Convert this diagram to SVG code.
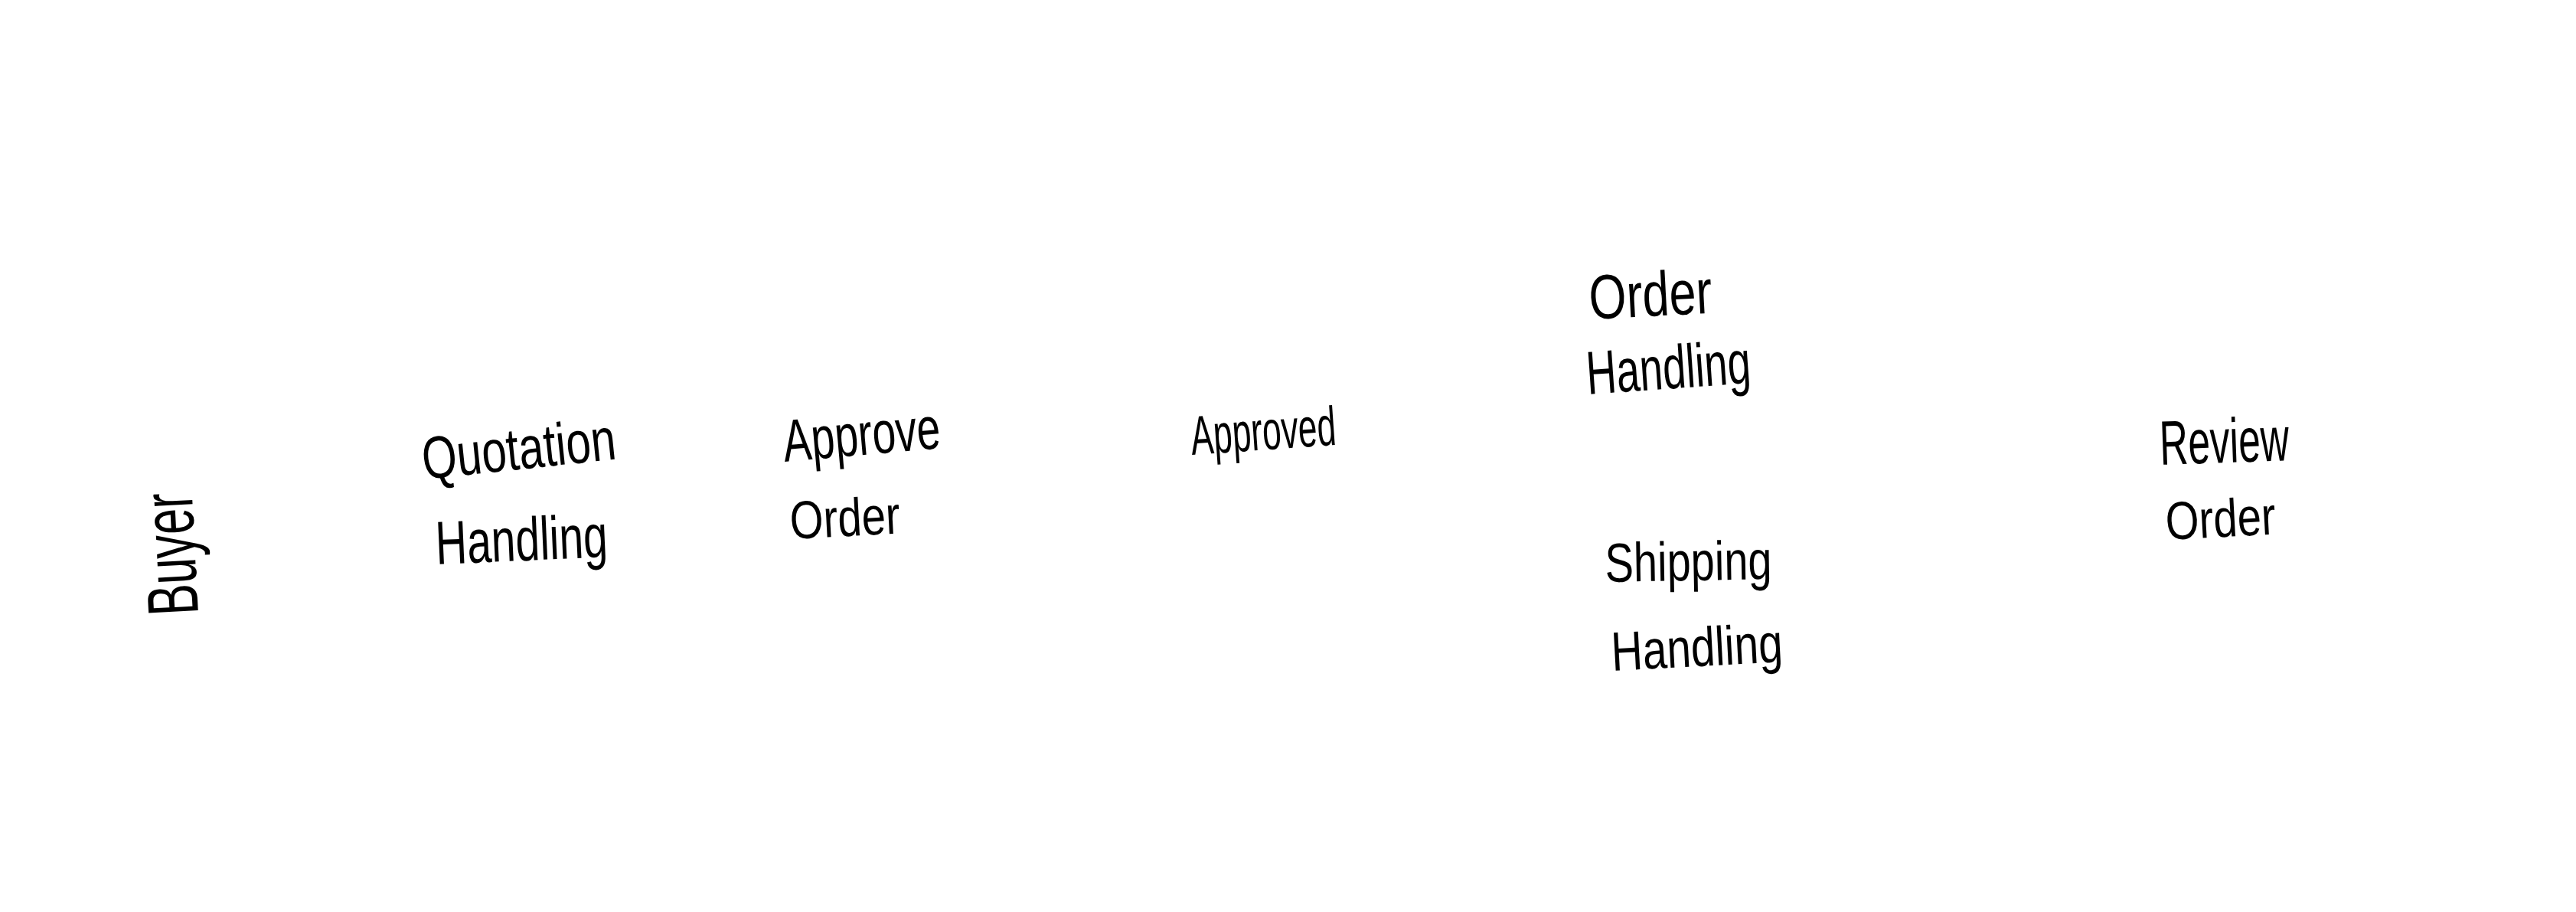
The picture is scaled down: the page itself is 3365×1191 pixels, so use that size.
<svg xmlns="http://www.w3.org/2000/svg" width="3365" height="1191" viewBox="0 0 3365 1191">
  <style>
    .lbl { font-family: "Liberation Sans", Arial, sans-serif; fill: #000000; font-weight: normal; }
  </style>
  <rect x="0" y="0" width="3365" height="1191" fill="#ffffff"/>
  <g id="connectors"></g>
  <g id="node-buyer">
    <text class="lbl" transform="translate(259,802) rotate(-93)" x="0" y="0" font-size="94" textLength="160" lengthAdjust="spacingAndGlyphs">Buyer</text>
  </g>
  <g id="node-quotation-handling">
    <text class="lbl" transform="translate(554,626) rotate(-6)" x="0" y="0" font-size="78" textLength="254" lengthAdjust="spacingAndGlyphs">Quotation</text>
    <text class="lbl" transform="translate(570,737) rotate(-2.5)" x="0" y="0" font-size="80" textLength="225" lengthAdjust="spacingAndGlyphs">Handling</text>
  </g>
  <g id="node-approve-order">
    <text class="lbl" transform="translate(1025,603) rotate(-5)" x="0" y="0" font-size="78" textLength="206" lengthAdjust="spacingAndGlyphs">Approve</text>
    <text class="lbl" transform="translate(1033,704) rotate(-3)" x="0" y="0" font-size="70" textLength="144" lengthAdjust="spacingAndGlyphs">Order</text>
  </g>
  <g id="node-approved">
    <text class="lbl" transform="translate(1557,594) rotate(-4)" x="0" y="0" font-size="72" textLength="190" lengthAdjust="spacingAndGlyphs">Approved</text>
  </g>
  <g id="node-order-handling">
    <text class="lbl" transform="translate(2077,417) rotate(-3)" x="0" y="0" font-size="82" textLength="161" lengthAdjust="spacingAndGlyphs">Order</text>
    <text class="lbl" transform="translate(2074,515) rotate(-4)" x="0" y="0" font-size="80" textLength="215" lengthAdjust="spacingAndGlyphs">Handling</text>
  </g>
  <g id="node-shipping-handling">
    <text class="lbl" transform="translate(2097,760) rotate(-1)" x="0" y="0" font-size="72" textLength="218" lengthAdjust="spacingAndGlyphs">Shipping</text>
    <text class="lbl" transform="translate(2106,876) rotate(-3)" x="0" y="0" font-size="72" textLength="224" lengthAdjust="spacingAndGlyphs">Handling</text>
  </g>
  <g id="node-review-order">
    <text class="lbl" transform="translate(2822,607) rotate(-2)" x="0" y="0" font-size="82" textLength="169" lengthAdjust="spacingAndGlyphs">Review</text>
    <text class="lbl" transform="translate(2830,705) rotate(-3)" x="0" y="0" font-size="70" textLength="144" lengthAdjust="spacingAndGlyphs">Order</text>
  </g>
</svg>
